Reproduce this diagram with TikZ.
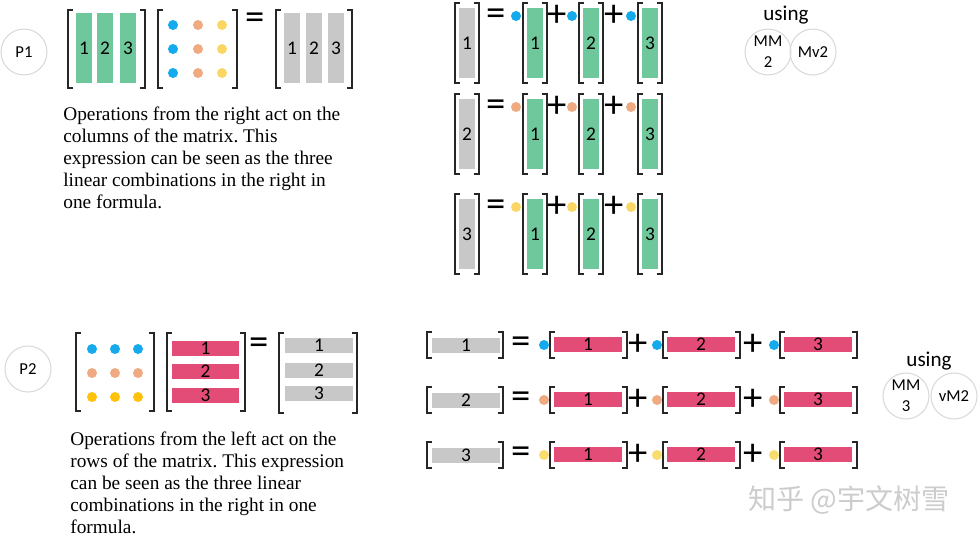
\documentclass[tikz,border=0pt]{standalone}
\usepackage{fontspec}
\setmainfont{Liberation Serif}
\newfontfamily\calib{Carlito}
\newfontfamily\cjk{Noto Sans CJK SC}
\definecolor{colgreen}{HTML}{6EC89B}
\definecolor{colgray}{HTML}{C8C8C8}
\definecolor{colpink}{HTML}{E44C78}
\definecolor{dblue}{HTML}{14AAEB}
\definecolor{dsalmon}{HTML}{F0AA82}
\definecolor{dyellow}{HTML}{FAD764}
\definecolor{dgold}{HTML}{FFC20A}
\definecolor{dlemon}{HTML}{F9DC6E}
\newcommand\barfont{\calib\fontsize{11}{11}\selectfont}
% corchetes de una matriz: x izq, y arriba, x der, y abajo
\newcommand\mbrak[4]{%
  \draw[brk] (#1+5,#2) -- (#1,#2) -- (#1,#4) -- (#1+5,#4);
  \draw[brk] (#3-5,#2) -- (#3,#2) -- (#3,#4) -- (#3-5,#4);}
\frenchspacing

\begin{document}
\begin{tikzpicture}[x=0.02cm,y=-0.02cm,
  brk/.style={line width=0.75pt,black!85},
  vbar/.style={fill=#1,minimum width=0.32cm,minimum height=1.4cm,inner sep=0pt,font=\barfont},
  hbar/.style={fill=#1,minimum width=1.36cm,minimum height=0.3cm,inner sep=0pt,font=\barfont},
  ring/.style={circle,draw=black!15,line width=0.6pt,minimum size=0.92cm,inner sep=0pt,align=center,font=\calib\fontsize{9.5}{12}\selectfont},
  usetxt/.style={inner sep=0pt,font=\calib\fontsize{12}{12}\selectfont},
  op/.style={inner sep=0pt,font=\calib\fontsize{22}{22}\selectfont},
  note/.style={anchor=north west,align=left,inner sep=0pt,font=\fontsize{11}{12.4}\selectfont}]
  \useasboundingbox (0,0) rectangle (980,539);
  % P1: columnas
  \node[ring] (p1) at (24,52) {P1};
  \mbrak{68}{10}{145}{88}
  \foreach \i/\x in {1/84,2/105,3/128} \node[vbar=colgreen] (a\i) at (\x,48) {\i};
  \mbrak{158}{10}{237}{88}
  \foreach \c/\x in {dblue/173,dsalmon/198,dyellow/222}
    \foreach \y in {25,49,73} \fill[\c] (\x,\y) circle[radius=0.1cm];
  \node[op] (eqA) at (255,21) {=};
  \mbrak{276}{10}{352}{88}
  \foreach \i/\x in {1/292,2/314,3/336} \node[vbar=colgray] (c\i) at (\x,48) {\i};
  \node[note] (t1) at (63,107) {Operations from the right act on the\\columns of the matrix. This\\expression can be seen as the three\\linear combinations in the right in\\one formula.};
  % combinaciones de columnas
  \foreach \j/\y/\c in {1/43/dblue,2/134/dsalmon,3/234/dyellow}{
    \mbrak{455}{\y-40}{479}{\y+40}
    \node[vbar=colgray] (r\j) at (467,\y) {\j};
    \node[op] (e\j) at (496,\y-26) {=};
    \foreach \k/\x in {1/535,2/591,3/650}{
      \fill[\c] (\x-19,\y-27) circle[radius=0.1cm];
      \mbrak{\x-12}{\y-40}{\x+12}{\y+40}
      \node[vbar=colgreen] (g\j\k) at (\x,\y) {\k};
    }
    \node[op] (pa\j) at (557,\y-27) {+};
    \node[op] (pb\j) at (614,\y-27) {+};
  }
  \node[usetxt] (use1) at (786,15) {using};
  \node[ring] (mm2) at (768,52) {MM\\2};
  \node[ring] (mv2) at (813,52) {Mv2};
  % P2: filas
  \node[ring] (p2) at (28,369) {P2};
  \mbrak{76}{333}{154}{411}
  \foreach \c/\y in {dblue/349,dsalmon/373,dgold/397}
    \foreach \x in {92,115,138} \fill[\c] (\x,\y) circle[radius=0.1cm];
  \mbrak{167}{333}{245}{411}
  \foreach \i/\y in {1/348,2/371.5,3/395.5} \node[hbar=colpink] (b\i) at (205.5,\y) {\i};
  \node[op] (eqB) at (259,346) {=};
  \mbrak{279}{333}{357}{413}
  \foreach \i/\y in {1/345.5,2/370,3/393.5} \node[hbar=colgray] (d\i) at (319,\y) {\i};
  \node[note] (t2) at (70,432) {Operations from the left act on the\\rows of the matrix. This expression\\can be seen as the three linear\\combinations in the right in one\\formula.};
  % combinaciones de filas
  \foreach \j/\y/\c in {1/345/dblue,2/400/dsalmon,3/455/dlemon}{
    \mbrak{427}{\y-13}{503}{\y+13}
    \node[hbar=colgray] (s\j) at (466,\y) {\j};
    \node[op] (f\j) at (521,\y) {=};
    \foreach \k/\x in {1/588,2/701,3/818}{
      \fill[\c] (\x-44,\y) circle[radius=0.1cm];
      \mbrak{\x-38}{\y-13}{\x+39}{\y+13}
      \node[hbar=colpink] (h\j\k) at (\x,\y-1) {\k};
    }
    \node[op] (qa\j) at (638,\y) {+};
    \node[op] (qb\j) at (753,\y) {+};
  }
  \node[usetxt] (use2) at (929,361) {using};
  \node[ring] (mm3) at (906,396) {MM\\3};
  \node[ring] (vm2) at (954,396) {vM2};
  \node[inner sep=0pt,text=gray!40,font=\cjk\fontsize{16}{16}\selectfont] (wm) at (849,500) {知乎 @宇文树雪};
\end{tikzpicture}
\end{document}
